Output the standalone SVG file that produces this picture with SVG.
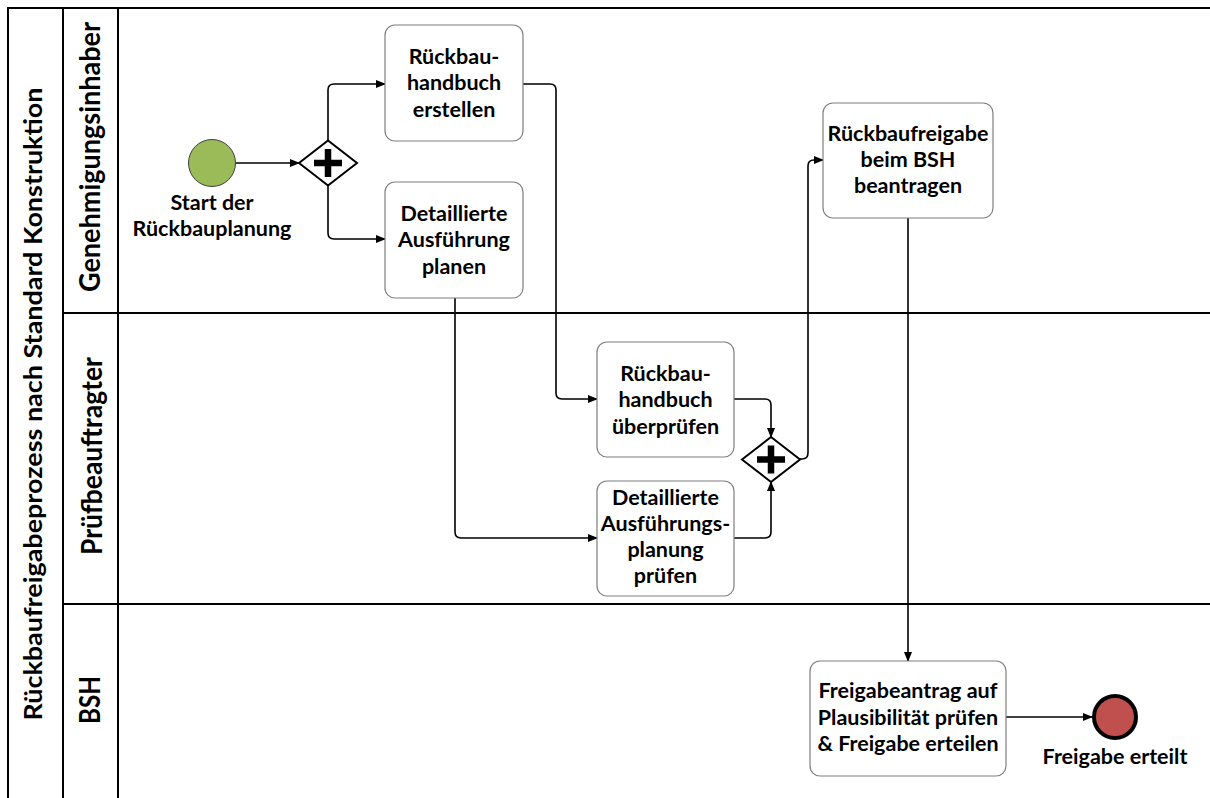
<svg xmlns="http://www.w3.org/2000/svg" width="1210" height="798" viewBox="0 0 1210 798">
<defs>
<marker id="arr" markerUnits="userSpaceOnUse" markerWidth="10" markerHeight="8" refX="9" refY="4" orient="auto">
<path d="M0,0 L10,4 L0,8 Z" fill="#000"/>
</marker>
<style>
.pool{stroke:#000;stroke-width:2;fill:none}
.task{fill:#fff;stroke:#7f7f7f;stroke-width:1.2}
.tt{font-family:Lato,"Liberation Sans",sans-serif;font-weight:bold;font-size:21.5px;fill:#000;text-anchor:middle}
.lane{font-family:Lato,"Liberation Sans",sans-serif;font-weight:bold;font-size:28px;fill:#000;text-anchor:middle}
.plab{font-family:Lato,"Liberation Sans",sans-serif;font-weight:bold;font-size:24px;fill:#000;text-anchor:middle}
.conn{fill:none;stroke:#000;stroke-width:1.6}
.gw{fill:#fff;stroke:#000;stroke-width:2}
</style>
</defs>
<rect width="1210" height="798" fill="#fff"/>
<g id="pool">
<path class="pool" d="M8,798 V8 H1210 M63,8 V798 M118,8 V798 M63,313 H1210 M63,604 H1210"/>
<text class="plab" transform="translate(42,404) rotate(-90)" textLength="633" lengthAdjust="spacingAndGlyphs">Rückbaufreigabeprozess nach Standard Konstruktion</text>
<text class="lane" transform="translate(100,157) rotate(-90)" textLength="270" lengthAdjust="spacingAndGlyphs">Genehmigungsinhaber</text>
<text class="lane" transform="translate(102,456) rotate(-90)" textLength="198" lengthAdjust="spacingAndGlyphs">Prüfbeauftragter</text>
<text class="lane" transform="translate(100,700) rotate(-90)" textLength="48" lengthAdjust="spacingAndGlyphs">BSH</text>
</g>
<g id="connectors">
<path class="conn" marker-end="url(#arr)" d="M236,163 H299"/>
<path class="conn" marker-end="url(#arr)" d="M328,141 V90 Q328,84 334,84 H385"/>
<path class="conn" marker-end="url(#arr)" d="M328,186 V233 Q328,239 334,239 H385"/>
<path class="conn" marker-end="url(#arr)" d="M523,84 H550 Q556,84 556,90 V393 Q556,399 562,399 H597"/>
<path class="conn" marker-end="url(#arr)" d="M455,298 V532 Q455,538 461,538 H597"/>
<path class="conn" marker-end="url(#arr)" d="M734,399 H765 Q771,399 771,405 V437"/>
<path class="conn" marker-end="url(#arr)" d="M734,538 H765 Q771,538 771,532 V482"/>
<path class="conn" marker-end="url(#arr)" d="M800,459 H802 Q808,459 808,453 V166 Q808,160 814,160 H823"/>
<path class="conn" marker-end="url(#arr)" d="M908,218 V661"/>
<path class="conn" marker-end="url(#arr)" d="M1006,717 H1092"/>
</g>
<g id="start">
<circle cx="212" cy="163" r="23.5" fill="#9bbb59" stroke="#3f3f3f" stroke-width="1"/>
<text class="tt" x="212" y="210">Start der</text>
<text class="tt" x="212" y="236">Rückbauplanung</text>
</g>
<g id="gateway1">
<path class="gw" d="M299,163 L328,140.5 L357,163 L328,185.5 Z"/>
<path d="M314,163 H342 M328,149 V177" stroke="#000" stroke-width="6.5" fill="none"/>
</g>
<g id="task1">
<rect class="task" x="385" y="25" width="138" height="116" rx="10"/>
<text class="tt" x="454" y="63.5">Rückbau-</text>
<text class="tt" x="454" y="90">handbuch</text>
<text class="tt" x="454" y="116.5">erstellen</text>
</g>
<g id="task2">
<rect class="task" x="385" y="182" width="138" height="116" rx="10"/>
<text class="tt" x="454" y="220.5">Detaillierte</text>
<text class="tt" x="454" y="247">Ausführung</text>
<text class="tt" x="454" y="273.5">planen</text>
</g>
<g id="task3">
<rect class="task" x="597" y="342" width="137" height="115" rx="10"/>
<text class="tt" x="665.5" y="380.5">Rückbau-</text>
<text class="tt" x="665.5" y="407">handbuch</text>
<text class="tt" x="665.5" y="433.5">überprüfen</text>
</g>
<g id="task4">
<rect class="task" x="597" y="481" width="137" height="115" rx="10"/>
<text class="tt" x="665.5" y="505">Detaillierte</text>
<text class="tt" x="665.5" y="531">Ausführungs-</text>
<text class="tt" x="665.5" y="557">planung</text>
<text class="tt" x="665.5" y="583">prüfen</text>
</g>
<g id="gateway2">
<path class="gw" d="M742,459.5 L771,437 L800,459.5 L771,482 Z"/>
<path d="M757,459.5 H785 M771,445.5 V473.5" stroke="#000" stroke-width="6.5" fill="none"/>
</g>
<g id="task5">
<rect class="task" x="823" y="103" width="170" height="115" rx="10"/>
<text class="tt" x="908" y="141">Rückbaufreigabe</text>
<text class="tt" x="908" y="167">beim BSH</text>
<text class="tt" x="908" y="193">beantragen</text>
</g>
<g id="task6">
<rect class="task" x="810" y="661" width="196" height="115" rx="10"/>
<text class="tt" x="908" y="698">Freigabeantrag auf</text>
<text class="tt" x="908" y="724.5">Plausibilität prüfen</text>
<text class="tt" x="908" y="751">&amp; Freigabe erteilen</text>
</g>
<g id="end">
<circle cx="1115" cy="717" r="21" fill="#c0504d" stroke="#000" stroke-width="4"/>
<text class="tt" x="1115" y="764">Freigabe erteilt</text>
</g>
</svg>
